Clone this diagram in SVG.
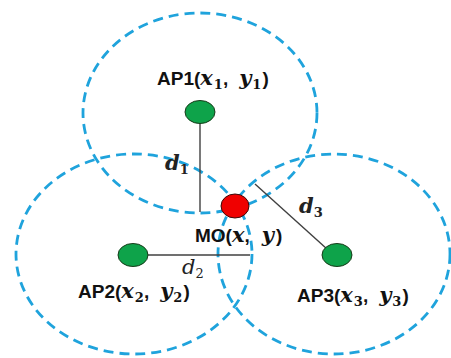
<svg xmlns="http://www.w3.org/2000/svg" width="451" height="358" viewBox="0 0 451 358">
<style>
.range{fill:none;stroke:#1FA3DC;stroke-width:2.8;stroke-dasharray:10 6}
.link{stroke:#404040;stroke-width:1.4;fill:none}
.ap{fill:#0EA34A;stroke:#1a3a1a;stroke-width:1}
.mo{fill:#F00000;stroke:#3a0a0a;stroke-width:1}
.lbl{font-family:"Liberation Sans",Arial,sans-serif;font-weight:bold;font-size:19px;fill:#111}
.v{font-family:"DejaVu Serif","Liberation Serif",serif;font-style:italic;font-weight:bold;font-size:21px}
.s{font-family:"DejaVu Serif","Liberation Serif",serif;font-style:normal;font-weight:bold;font-size:13px}
.d{font-family:"DejaVu Serif","Liberation Serif",serif;font-style:italic;font-weight:bold;font-size:21px;fill:#222}
</style>
<rect width="451" height="358" fill="#fff"/>
<g id="ranges">
<ellipse class="range" cx="200" cy="113" rx="117" ry="100"/>
<ellipse class="range" cx="134" cy="254" rx="118" ry="100"/>
<ellipse class="range" cx="334" cy="254" rx="116" ry="100"/>
</g>
<g id="connectors">
<line class="link" x1="200" y1="112" x2="200" y2="212"/>
<line class="link" x1="133" y1="255" x2="250" y2="255"/>
<line class="link" x1="255" y1="184" x2="327" y2="249"/>
</g>
<g id="AP1">
<ellipse class="ap" cx="200" cy="112" rx="15" ry="11.5"/>
<text class="lbl" x="157" y="85">AP1(<tspan class="v">x</tspan><tspan class="s" dx="1" dy="4">1</tspan><tspan dy="-4">,</tspan><tspan class="v" dx="11">y</tspan><tspan class="s" dx="1" dy="4">1</tspan><tspan dy="-4" dx="1">)</tspan></text>
</g>
<g id="AP2">
<ellipse class="ap" cx="133" cy="255" rx="15" ry="11.5"/>
<text class="lbl" x="78" y="298">AP2(<tspan class="v">x</tspan><tspan class="s" dx="1" dy="4">2</tspan><tspan dy="-4">,</tspan><tspan class="v" dx="11">y</tspan><tspan class="s" dx="1" dy="4">2</tspan><tspan dy="-4" dx="1">)</tspan></text>
</g>
<g id="AP3">
<ellipse class="ap" cx="337" cy="255" rx="15" ry="11.5"/>
<text class="lbl" x="297" y="302">AP3(<tspan class="v">x</tspan><tspan class="s" dx="1" dy="4">3</tspan><tspan dy="-4">,</tspan><tspan class="v" dx="11">y</tspan><tspan class="s" dx="1" dy="4">3</tspan><tspan dy="-4" dx="1">)</tspan></text>
</g>
<g id="MO">
<ellipse class="mo" cx="235" cy="206" rx="14" ry="12"/>
<text class="lbl" x="195" y="242">MO(<tspan class="v">x</tspan>,<tspan class="v" dx="12">y</tspan><tspan dx="2">)</tspan></text>
</g>
<g id="labels">
<text class="d" x="165" y="170">d<tspan class="s" dy="4">1</tspan></text>
<text class="d" x="299" y="213">d<tspan class="s" dy="4">3</tspan></text>
<text class="d" x="182" y="274" style="font-weight:normal">d<tspan class="s" dy="4" style="font-weight:normal">2</tspan></text>
</g>
</svg>
